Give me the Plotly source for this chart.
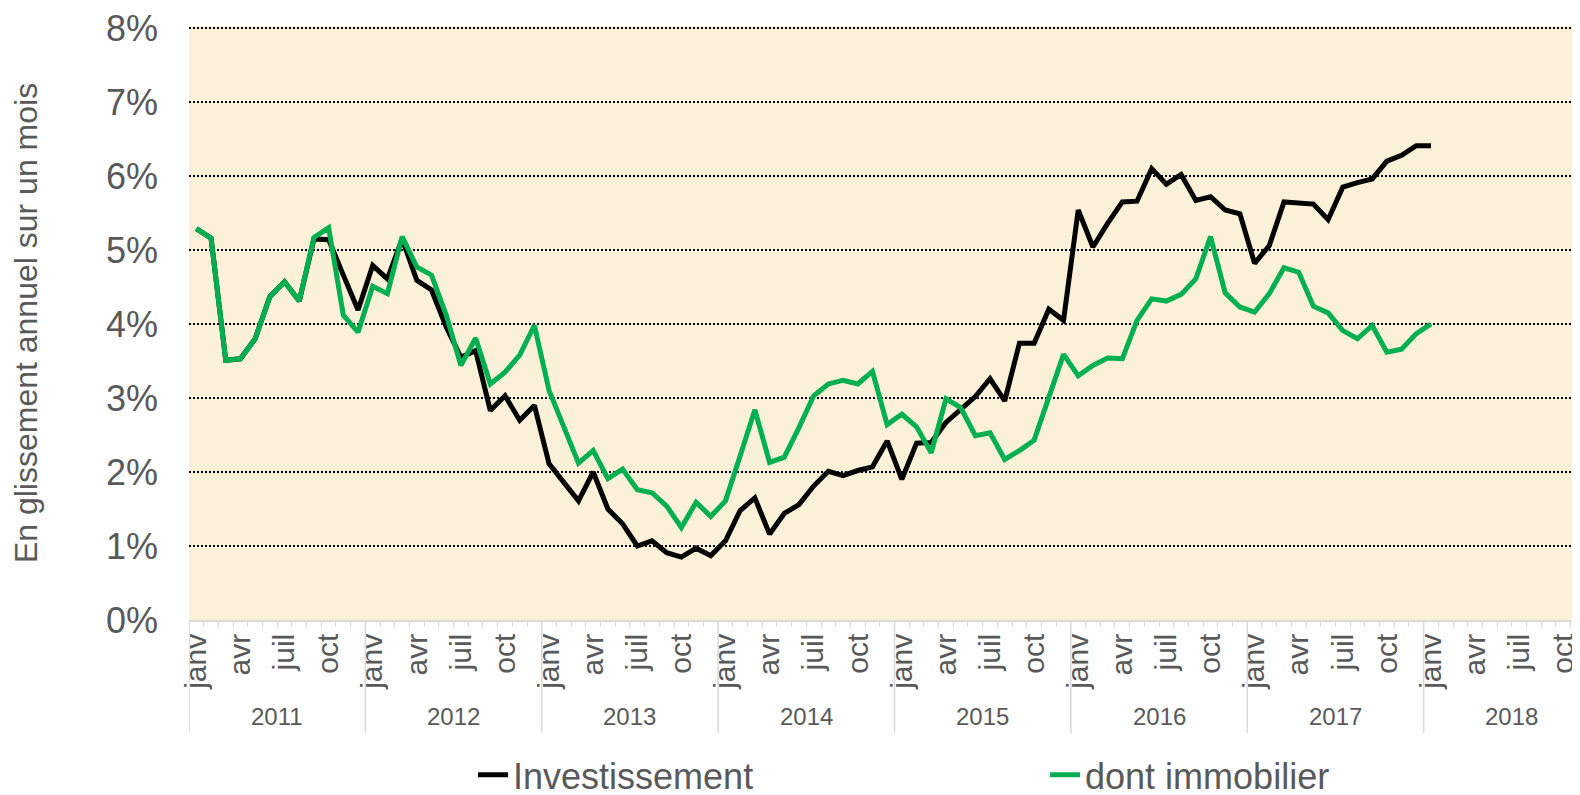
import plotly.graph_objects as go

YEARS = ["2011", "2012", "2013", "2014", "2015", "2016", "2017", "2018"]
MONTHS = ["janv", "févr", "mars", "avr", "mai", "juin", "juil", "août", "sept", "oct", "nov", "déc"]
SHOWN_MONTHS = ["janv", "avr", "juil", "oct"]

INVEST = [5.29, 5.16, 3.51, 3.53, 3.80, 4.37, 4.57, 4.31, 5.15, 5.14, 4.66, 4.19,
          4.79, 4.61, 5.15, 4.59, 4.46, 3.96, 3.55, 3.64, 2.83, 3.03, 2.70, 2.90,
          2.11, 1.86, 1.61, 2.00, 1.50, 1.30, 1.00, 1.07, 0.91, 0.85, 0.97, 0.87,
          1.07, 1.48, 1.65, 1.16, 1.44, 1.56, 1.81, 2.01, 1.95, 2.02, 2.07, 2.42,
          1.90, 2.39, 2.40, 2.67, 2.85, 3.02, 3.26, 2.96, 3.74, 3.74, 4.20, 4.05,
          5.54, 5.04, 5.36, 5.65, 5.66, 6.10, 5.89, 6.02, 5.67, 5.72, 5.54, 5.49,
          4.82, 5.06, 5.65, 5.63, 5.62, 5.41, 5.85, 5.91, 5.96, 6.20, 6.28, 6.41,
          6.41]
IMMO = [5.29, 5.16, 3.51, 3.53, 3.80, 4.37, 4.57, 4.31, 5.17, 5.30, 4.12, 3.89,
        4.51, 4.41, 5.18, 4.77, 4.66, 4.12, 3.44, 3.81, 3.19, 3.35, 3.58, 3.98,
        3.10, 2.60, 2.12, 2.29, 1.91, 2.04, 1.76, 1.72, 1.54, 1.25, 1.59, 1.40,
        1.61, 2.22, 2.84, 2.13, 2.20, 2.60, 3.03, 3.19, 3.24, 3.19, 3.36, 2.64,
        2.78, 2.61, 2.26, 2.99, 2.87, 2.49, 2.53, 2.17, 2.29, 2.43, 3.01, 3.59,
        3.30, 3.44, 3.54, 3.53, 4.05, 4.34, 4.31, 4.40, 4.61, 5.18, 4.42, 4.23,
        4.16, 4.41, 4.76, 4.70, 4.24, 4.15, 3.91, 3.80, 3.98, 3.62, 3.66, 3.87,
        4.00]
Y_TICKS = [0, 1, 2, 3, 4, 5, 6, 7, 8]
Y_TICKTEXT = ["0%", "1%", "2%", "3%", "4%", "5%", "6%", "7%", "8%"]

nm = len(MONTHS)
n_total = nm * len(YEARS)
x_idx = list(range(len(INVEST)))  # month index from janv 2011

tick_vals, tick_text = [], []
for yi, _ in enumerate(YEARS):
    for mi, m in enumerate(MONTHS):
        if m in SHOWN_MONTHS:
            tick_vals.append(yi * nm + mi)
            tick_text.append(m)

FONT = "Liberation Sans, Arial, sans-serif"
GREY = "#595959"
AXISGREY = "#D9D9D9"

fig = go.Figure()
fig.add_trace(go.Scatter(x=x_idx, y=INVEST, mode="lines", name="Investissement",
                         line=dict(color="#000000", width=5), legend="legend"))
fig.add_trace(go.Scatter(x=x_idx, y=IMMO, mode="lines", name="dont immobilier",
                         line=dict(color="#00B050", width=5), legend="legend2"))

# year labels and dividers below the axis
for yi, yr in enumerate(YEARS):
    fig.add_annotation(x=yi * nm + (nm - 1) / 2, y=-0.1628, xref="x", yref="paper",
                       text=yr, showarrow=False, yanchor="middle",
                       font=dict(size=24, color=GREY, family=FONT))
    fig.add_shape(type="line", xref="x", yref="paper",
                  x0=yi * nm - 0.5, x1=yi * nm - 0.5, y0=0, y1=-0.1902,
                  line=dict(color=AXISGREY, width=1.5), layer="above")

fig.update_layout(
    width=1600, height=810,
    margin=dict(l=181, r=8, t=18, b=198),
    paper_bgcolor="white",
    plot_bgcolor="#FBF0D8",
    font=dict(family=FONT, color=GREY),
    showlegend=True,
    legend=dict(orientation="h", x=0.2013, xanchor="left", y=-0.2605, yanchor="middle",
                font=dict(size=36, color=GREY), bgcolor="rgba(0,0,0,0)"),
    legend2=dict(orientation="h", x=0.6067, xanchor="left", y=-0.2605, yanchor="middle",
                 font=dict(size=36, color=GREY), bgcolor="rgba(0,0,0,0)"),
    xaxis=dict(
        automargin=False,
        range=[-0.5, n_total - 0.5],
        tickmode="array", tickvals=tick_vals, ticktext=tick_text,
        tickangle=-90,
        tickfont=dict(size=30, color=GREY, family=FONT),
        ticks="",
        showgrid=False, zeroline=False,
        showline=True, linecolor=AXISGREY, linewidth=1.5,
        minor=dict(tick0=-0.5, dtick=1, ticks="outside", ticklen=5,
                   tickcolor=AXISGREY, tickwidth=1, showgrid=False),
    ),
    yaxis=dict(
        automargin=False,
        range=[0, 8.027],
        tickvals=Y_TICKS, ticktext=Y_TICKTEXT,
        ticklabeloverflow="allow",
        tickfont=dict(size=36, color=GREY, family=FONT),
        showgrid=True, gridcolor="#000000", gridwidth=2, griddash="2px,2px",
        zeroline=False, showline=False, ticks="",
        ticklabelstandoff=30,
        title=dict(text="En glissement annuel sur un mois",
                   font=dict(size=32, color=GREY, family=FONT), standoff=68),
    ),
)

fig.write_html("out.html")
